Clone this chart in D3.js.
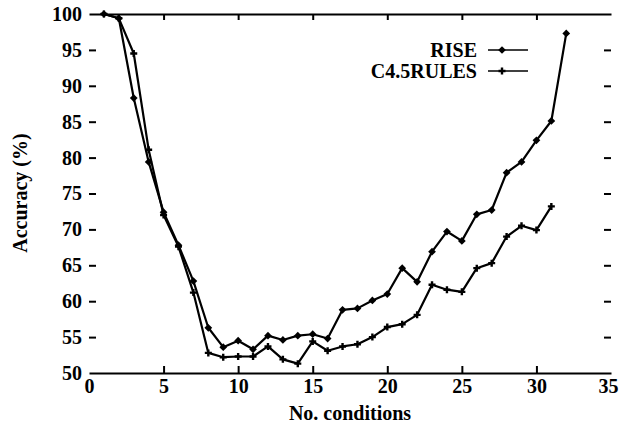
<!DOCTYPE html>
<html>
<head>
<meta charset="utf-8">
<script src="https://cdn.jsdelivr.net/npm/d3@7"></script>
<style>
  html, body { margin: 0; padding: 0; background: #fff; }
  svg { display: block; }
  text { font-family: "Liberation Serif", "Times New Roman", serif; font-weight: bold; fill: #000; }
</style>
</head>
<body>
<svg id="chart" width="619" height="429"></svg>
<script>
// ---- data ----
const riseX = [1,2,3,4,5,6,7,8,9,10,11,12,13,14,15,16,17,18,19,20,21,22,23,24,25,26,27,28,29,30,31,32];
const riseY = [100,99.4,88.3,79.4,72.4,67.8,62.8,56.3,53.6,54.5,53.3,55.2,54.6,55.2,55.4,54.8,58.8,59.0,60.1,61.0,64.6,62.7,66.9,69.7,68.4,72.1,72.7,77.9,79.4,82.4,85.1,97.3];
const c45X = [1,2,3,4,5,6,7,8,9,10,11,12,13,14,15,16,17,18,19,20,21,22,23,24,25,26,27,28,29,30,31];
const c45Y = [100,99.4,94.5,81.1,72.0,67.6,61.2,52.8,52.2,52.3,52.3,53.7,51.9,51.3,54.4,53.1,53.7,54.0,55.0,56.4,56.8,58.1,62.3,61.6,61.3,64.6,65.3,69.0,70.5,69.9,73.2];
const xTicks = [0,5,10,15,20,25,30,35];
const yTicks = [50,55,60,65,70,75,80,85,90,95,100];
const seriesNames = ["RISE", "C4.5RULES"];
const xTitle = "No. conditions";
const yTitle = "Accuracy (%)";

// ---- layout ----
const svg = d3.select("#chart");
const L = 89, R = 611, T = 14, B = 373;
const x = d3.scaleLinear().domain([0,35]).range([L,R]);
const y = d3.scaleLinear().domain([50,100]).range([B,T]);
const FS = 20;

// bottom axis
const gB = svg.append("g").attr("transform", `translate(0,${B})`)
  .call(d3.axisBottom(x).tickValues(xTicks).tickSize(-7).tickSizeOuter(0).tickPadding(6));
// top axis
const gT = svg.append("g").attr("transform", `translate(0,${T})`)
  .call(d3.axisTop(x).tickValues(xTicks).tickSize(-6).tickSizeOuter(0).tickFormat(""));
// left axis
const gL = svg.append("g").attr("transform", `translate(${L},0)`)
  .call(d3.axisLeft(y).tickValues(yTicks).tickSize(-7).tickSizeOuter(0).tickPadding(7));
// right axis
const gR = svg.append("g").attr("transform", `translate(${R},0)`)
  .call(d3.axisRight(y).tickValues(yTicks).tickSize(-7).tickSizeOuter(0).tickFormat(""));

[gB, gT, gL, gR].forEach(g => {
  g.selectAll("path.domain").attr("stroke", "#000").attr("stroke-width", 2);
  g.selectAll(".tick line").attr("stroke", "#000").attr("stroke-width", 2);
  g.selectAll("text").attr("font-size", FS).attr("font-family", "Liberation Serif, serif")
    .attr("font-weight", "bold").attr("fill", "#000");
});
gL.select("path.domain").remove();
gR.select("path.domain").remove();
// no tick marks at corners (axis ends)
gB.selectAll(".tick").filter(d => d === 0 || d === 35).select("line").remove();
gT.selectAll(".tick").filter(d => d === 0 || d === 35).select("line").remove();
gL.selectAll(".tick").filter(d => d === 50 || d === 100).select("line").remove();
gR.selectAll(".tick").filter(d => d === 50 || d === 100).select("line").remove();
// keep the last x label inside the window
gB.selectAll(".tick").filter(d => d === 35).select("text")
  .attr("text-anchor", "end").attr("x", 7);

// axis titles
svg.append("text").attr("x", 350).attr("y", 420).attr("text-anchor", "middle")
  .attr("font-size", FS).text(xTitle);
svg.append("text").attr("transform", `translate(27,193) rotate(-90)`).attr("text-anchor", "middle")
  .attr("font-size", FS).text(yTitle);

// lines
const line = d3.line().x(d => x(d[0])).y(d => y(d[1]));
const riseData = riseX.map((v,i) => [v, riseY[i]]);
const c45Data = c45X.map((v,i) => [v, c45Y[i]]);

svg.append("path").datum(riseData).attr("d", line)
  .attr("fill", "none").attr("stroke", "#000").attr("stroke-width", 2.2).attr("stroke-linejoin", "round");
svg.append("path").datum(c45Data).attr("d", line)
  .attr("fill", "none").attr("stroke", "#000").attr("stroke-width", 2.2).attr("stroke-linejoin", "round");

const diamond = d3.symbol().type(d3.symbolSquare).size(30);
svg.append("g").selectAll("path").data(riseData).join("path")
  .attr("d", diamond)
  .attr("transform", d => `translate(${x(d[0])},${y(d[1])}) rotate(45)`)
  .attr("fill", "#000");

const plusPath = "M-3.5,0H3.5M0,-3.5V3.5";
svg.append("g").selectAll("path").data(c45Data).join("path")
  .attr("d", plusPath)
  .attr("transform", d => `translate(${x(d[0])},${y(d[1])})`)
  .attr("stroke", "#000").attr("stroke-width", 2.4).attr("fill", "none");

// legend
const legY = [50, 71];
seriesNames.forEach((name, i) => {
  svg.append("text").attr("x", 477).attr("y", legY[i] + 6.8).attr("text-anchor", "end")
    .attr("font-size", FS).text(name);
  svg.append("line").attr("x1", 488).attr("x2", 528).attr("y1", legY[i]).attr("y2", legY[i])
    .attr("stroke", "#000").attr("stroke-width", 1.6);
  if (i === 0) {
    svg.append("path").attr("d", diamond).attr("transform", `translate(502,${legY[i]}) rotate(45)`).attr("fill", "#000");
  } else {
    svg.append("path").attr("d", plusPath).attr("transform", `translate(502,${legY[i]})`)
      .attr("stroke", "#000").attr("stroke-width", 2.4);
  }
});
</script>
</body>
</html>
